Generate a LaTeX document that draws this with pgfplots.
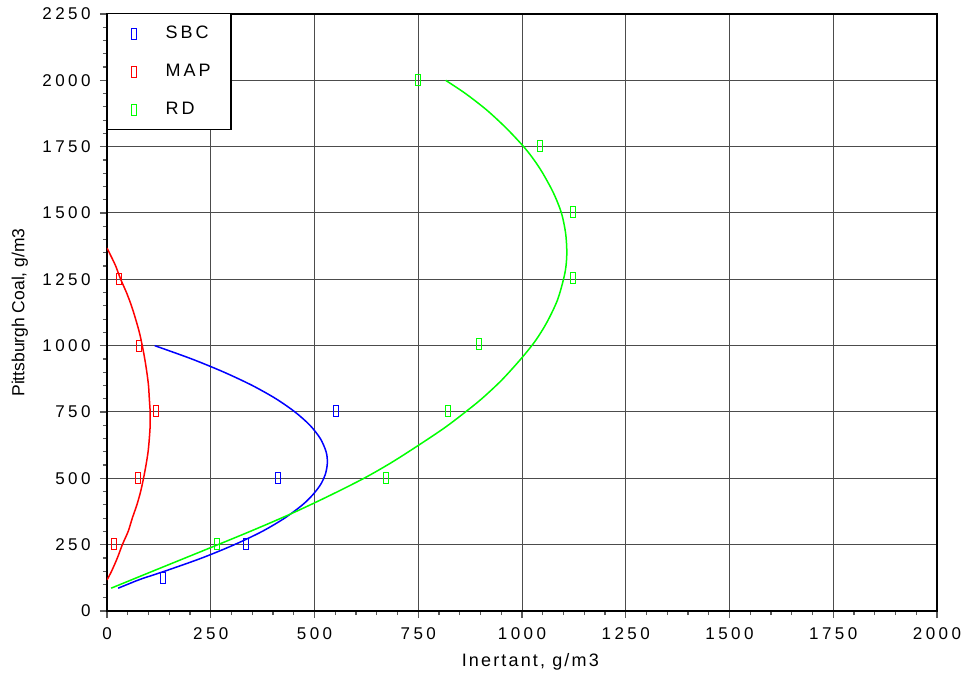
\documentclass[border=0pt]{standalone}
\usepackage{pgfplots}
\pgfplotsset{compat=1.18}
\usepackage{fontspec}
\setmainfont{Liberation Sans}
\newfontfamily\tickfont[LetterSpace=20]{Liberation Sans}
\newfontfamily\legfont[LetterSpace=16]{Liberation Sans}
\newfontfamily\labfont[LetterSpace=12]{Liberation Sans}

\pgfdeclareplotmark{trect}{\pgfpathrectangle{\pgfpoint{-2.5bp}{-5.5bp}}{\pgfpoint{5bp}{11bp}}\pgfusepathqstroke}

\definecolor{cblue}{RGB}{0,0,255}
\definecolor{cred}{RGB}{255,0,0}
\definecolor{cgreen}{RGB}{0,255,0}

\pgfplotsset{mkstyle/.style={only marks, mark=trect, mark options={solid, line width=1bp},
  legend image code/.code={\path[draw=none, fill=none] (0bp,-5bp) rectangle (48bp,5bp); \draw[##1] plot coordinates {(16bp,0bp)};}}}

\begin{document}
\begin{tikzpicture}
\useasboundingbox (-107bp,-69bp) rectangle (861bp,611bp);
\begin{axis}[
  at={(0,0)}, anchor=south west,
  scale only axis, width=830bp, height=597bp,
  xmin=0, xmax=2000, ymin=0, ymax=2250,
  xtick={0,250,...,2000}, ytick={0,250,...,2250},
  minor tick num=4,
  tick align=outside, xtick pos=left, ytick pos=left,
  major tick length=7bp, minor tick length=4bp,
  tick style={black!65, line width=1.2bp},
  grid=major,
  major grid style={black!70, line width=1bp},
  axis line style={black, line width=2bp},
  /pgf/number format/assume math mode=true,
  /pgf/number format/1000 sep={},
  ticklabel style={font=\tickfont\fontsize{17bp}{20bp}\selectfont},
  xticklabel style={yshift=-6bp},
  yticklabel style={xshift=-6bp},
  xlabel={Inertant, g/m3},
  ylabel={Pittsburgh Coal, g/m3},
  every axis x label/.style={at={(axis description cs:0.51,-0.0854)}, anchor=center, font=\labfont\fontsize{18bp}{20bp}\selectfont},
  every axis y label/.style={at={(axis description cs:-0.105,0.5)}, anchor=center, rotate=90, font=\fontsize{17.5bp}{20bp}\selectfont},
  legend style={at={(axis description cs:0,1.002)}, anchor=north west, draw=black, line width=1.5bp, fill=white,
    inner xsep=10bp, inner ysep=11.5bp, row sep=21bp,
    font=\legfont\fontsize{18bp}{20bp}\selectfont,
    cells={anchor=west},
    nodes={inner sep=0pt, text height=13bp, text depth=4bp}},
  legend cell align=left,
]
% curves
\addplot[cblue, line width=1.5bp, smooth, tension=0.5, forget plot] coordinates {
(115,1000) (204,950) (282,900) (350,850) (407,800) (453,750) (489,700) (514,650) (528,600)
(531,560) (527,520) (516,480) (497,440) (471,400) (428,350) (374,300) (307,250) (229,200)
(139,150) (83,121) (52,102) (27,86)};
\addplot[cred, line width=1.5bp, smooth, tension=0.5, forget plot] coordinates {
(0,1368) (12,1330) (21,1300) (33,1250) (47,1200) (59,1150) (69,1100) (78,1050) (85,1000)
(91,950) (96,900) (100,850) (102,800) (104,750) (104,700) (102,650) (99,600) (94,550)
(88,500) (81,450) (72,400) (61,350) (51,300) (37,250) (25,200) (11,150) (0,117)};
\addplot[cgreen, line width=1.5bp, smooth, tension=0.5, forget plot] coordinates {
(10,86) (110,150) (250,239) (345,300) (440,364) (530,430) (619,500) (686,560) (752,626)
(813,690) (862,748) (903,800) (951,870) (999,953) (1033,1020) (1060,1088) (1085,1170)
(1100,1250) (1106,1300) (1108,1356) (1105,1425) (1095,1500) (1076,1575) (1050,1650)
(1029,1700) (1004,1750) (962,1820) (915,1888) (864,1950) (816,2000)};
% markers
\addplot[cblue, mkstyle] coordinates {
(134,125) (335,252) (412,502) (553,752)};
\addlegendentry{\makebox[55bp][l]{SBC}}
\addplot[cred, mkstyle] coordinates {
(-9,88) (16,252) (75,502) (118,752) (77,1000) (28,1252)};
\addlegendentry{\makebox[55bp][l]{MAP}}
\addplot[cgreen, mkstyle] coordinates {
(-9,88) (264,252) (673,502) (822,752) (896,1005) (1124,1255) (1123,1502) (1043,1752) (750,2002)};
\addlegendentry{\makebox[55bp][l]{RD}}
\end{axis}
\end{tikzpicture}
\end{document}
